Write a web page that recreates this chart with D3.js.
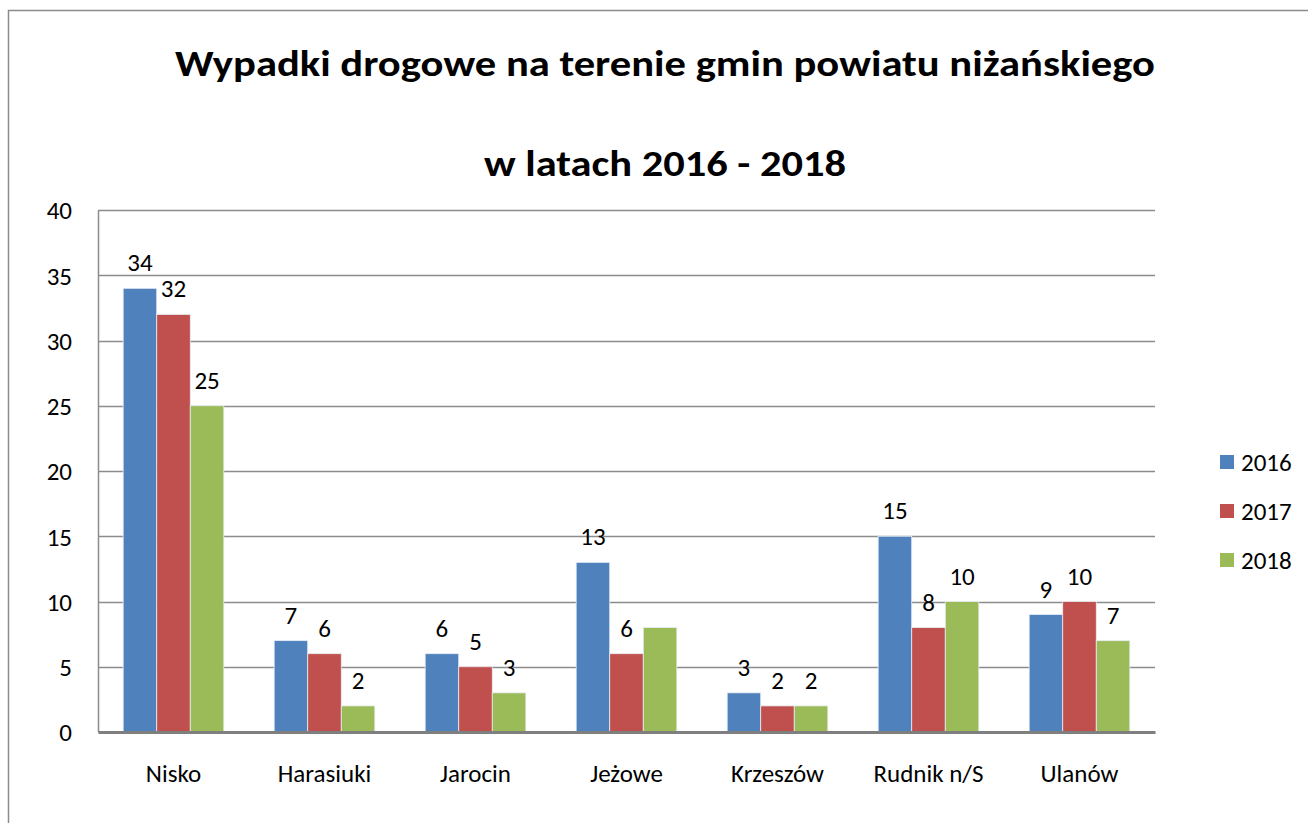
<!DOCTYPE html>
<html>
<head>
<meta charset="utf-8">
<script src="https://cdn.jsdelivr.net/npm/d3@7"></script>
<style>
  body { margin: 0; background: #fff; }
  svg text { font-family: Carlito, "Open Sans", "Liberation Sans", sans-serif; fill: #000; }
</style>
</head>
<body>
<div id="chart"></div>
<script>
// gminy (categories)
var gminy = ["Nisko", "Harasiuki", "Jarocin", "Jeżowe", "Krzeszów", "Rudnik n/S", "Ulanów"];
var lata = ["2016", "2017", "2018"];
// values per year
var v2016 = [34, 7, 6, 13, 3, 15, 9];
var v2017 = [32, 6, 5, 6, 2, 8, 10];
var v2018 = [25, 2, 3, 8, 2, 10, 7];
var yTicks = [0, 5, 10, 15, 20, 25, 30, 35, 40];
// data labels that are not shown in the original
var hiddenLabels = [["Jeżowe", "2018"]];
var colors = ["#4F81BD", "#C0504D", "#9BBB59"];

var W = 1308, H = 823;
var margin = {top: 210, right: 153, bottom: 91, left: 98},
    width = W - margin.left - margin.right,
    height = H - margin.top - margin.bottom;

var svg = d3.select("#chart").append("svg")
    .attr("width", W)
    .attr("height", H);

// outer frame
svg.append("path")
    .attr("d", "M8.5," + H + "V10.5H" + W)
    .attr("fill", "none")
    .attr("stroke", "#8c8c8c")
    .attr("stroke-width", 1.5);

// title
svg.append("text")
    .attr("x", 665).attr("y", 76)
    .attr("text-anchor", "middle")
    .style("font-weight", "bold").style("font-size", "37px")
    .attr("textLength", 980).attr("lengthAdjust", "spacingAndGlyphs")
    .text("Wypadki drogowe na terenie gmin powiatu niżańskiego");
svg.append("text")
    .attr("x", 665).attr("y", 176)
    .attr("text-anchor", "middle")
    .style("font-weight", "bold").style("font-size", "37px")
    .attr("textLength", 362).attr("lengthAdjust", "spacingAndGlyphs")
    .text("w latach 2016 - 2018");

var g = svg.append("g")
    .attr("transform", "translate(" + margin.left + "," + margin.top + ")");

var x0 = d3.scaleBand().domain(gminy).range([0, width]).paddingInner(0).paddingOuter(0);
var x1 = d3.scaleBand().domain(lata).range([0, x0.bandwidth()]).paddingInner(0).paddingOuter(0.75);
var y = d3.scaleLinear().domain([0, 40]).range([height, 0]);

// gridlines
g.selectAll(".grid").data(yTicks.slice(1)).enter().append("line")
    .attr("x1", 0).attr("x2", width)
    .attr("y1", function(d) { return Math.round(y(d)) + 0.5; })
    .attr("y2", function(d) { return Math.round(y(d)) + 0.5; })
    .attr("stroke", "#8c8c8c").attr("stroke-width", 1.5);

// y axis
var yAxis = g.append("g")
    .call(d3.axisLeft(y).tickValues(yTicks).tickSize(0).tickPadding(26));
yAxis.select(".domain").attr("stroke", "#8c8c8c").attr("stroke-width", 1.5);
yAxis.selectAll("text").style("font-size", "25px").attr("dy", "0.35em");

var rows = [];
gminy.forEach(function(gm, i) {
    var vals = [v2016[i], v2017[i], v2018[i]];
    lata.forEach(function(r, j) {
        var hidden = hiddenLabels.some(function(h) { return h[0] == gm && h[1] == r; });
        rows.push({gmina: gm, rok: r, value: vals[j], color: colors[j], hidden: hidden});
    });
});

g.selectAll("rect.bar").data(rows).enter().append("rect")
    .attr("class", "bar")
    .attr("x", function(d) { return x0(d.gmina) + x1(d.rok); })
    .attr("width", x1.bandwidth())
    .attr("y", function(d) { return y(d.value); })
    .attr("height", function(d) { return height - y(d.value); })
    .attr("fill", function(d) { return d.color; })
    .attr("stroke", "#e8eef6").attr("stroke-width", 0.8);

g.selectAll("text.lbl").data(rows.filter(function(d) { return !d.hidden; })).enter().append("text")
    .attr("class", "lbl")
    .attr("x", function(d) { return x0(d.gmina) + x1(d.rok) + x1.bandwidth() / 2; })
    .attr("y", function(d) { return y(d.value) - 17; })
    .attr("text-anchor", "middle")
    .style("font-size", "25px")
    .text(function(d) { return d.value; });

// x axis
var xAxis = g.append("g")
    .attr("transform", "translate(0," + height + ")")
    .call(d3.axisBottom(x0).tickSize(0));
xAxis.select(".domain").attr("stroke", "#7f7f7f").attr("stroke-width", 3);
xAxis.selectAll("text").style("font-size", "25px").attr("y", 50).attr("dy", null);

// legend
var legend = svg.append("g").attr("transform", "translate(1220,462)");
var li = legend.selectAll("g").data(lata).enter().append("g")
    .attr("transform", function(d, i) { return "translate(0," + (i * 49) + ")"; });
li.append("rect")
    .attr("x", 0).attr("y", -7).attr("width", 14).attr("height", 14)
    .attr("fill", function(d, i) { return colors[i]; });
li.append("text")
    .attr("x", 21).attr("y", 0).attr("dy", "0.35em")
    .style("font-size", "25px")
    .text(function(d) { return d; });
</script>
</body>
</html>
